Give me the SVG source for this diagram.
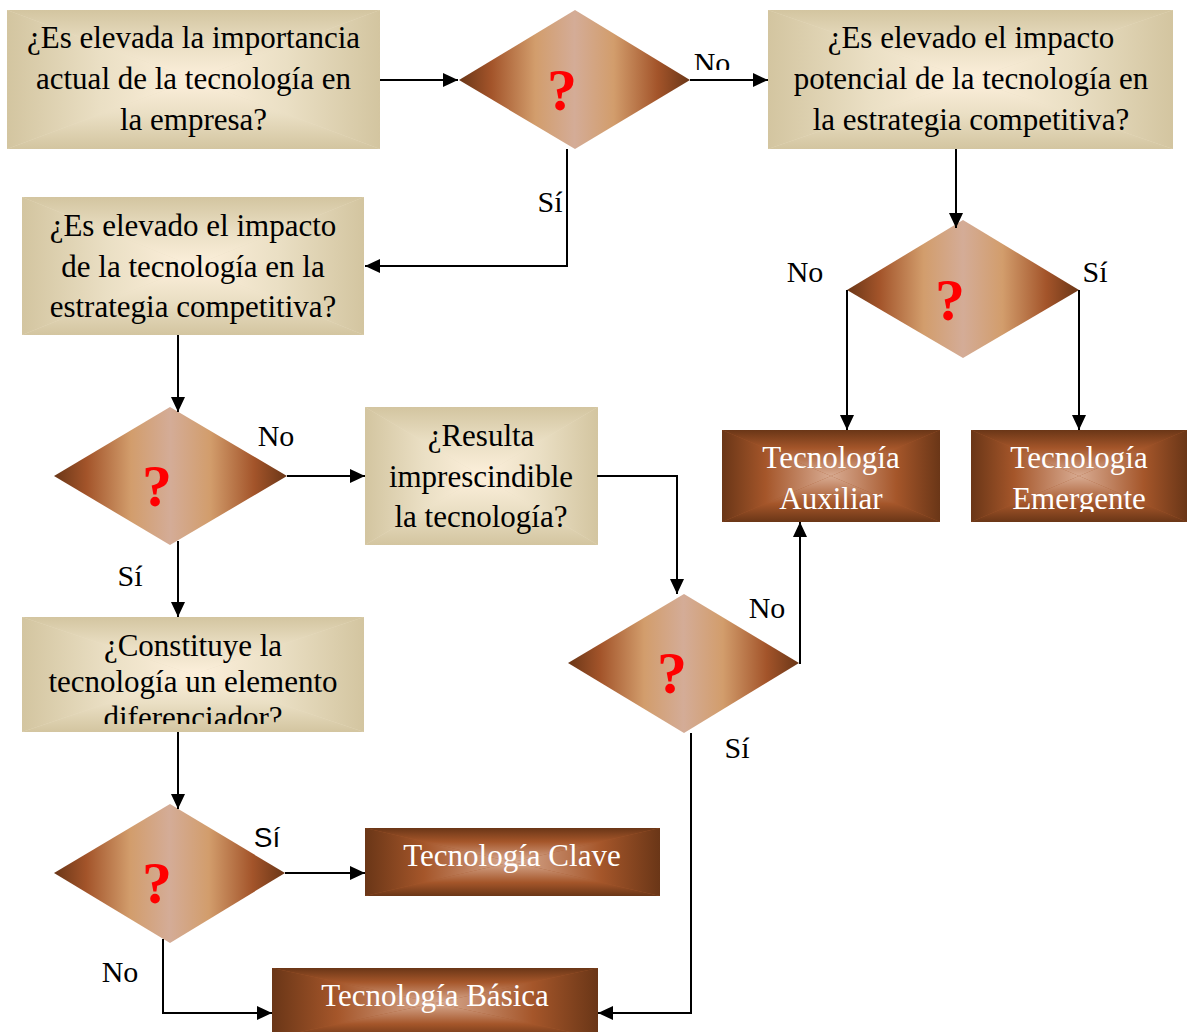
<svg xmlns="http://www.w3.org/2000/svg" width="1187" height="1032" viewBox="0 0 1187 1032">
  <defs>
    <!-- beige "from centre" fill: four triangles fading from edge to centre -->
    <linearGradient id="bgV" x1="0" y1="0" x2="0" y2="1"><stop offset="0" stop-color="#d3c5a0"/><stop offset="0.5" stop-color="#eadfc4"/><stop offset="1" stop-color="#fdf0dc"/></linearGradient>
    <linearGradient id="bgVr" x1="0" y1="1" x2="0" y2="0"><stop offset="0" stop-color="#d3c5a0"/><stop offset="0.5" stop-color="#eadfc4"/><stop offset="1" stop-color="#fdf0dc"/></linearGradient>
    <linearGradient id="bgH" x1="0" y1="0" x2="1" y2="0"><stop offset="0" stop-color="#d3c5a0"/><stop offset="0.5" stop-color="#eadfc4"/><stop offset="1" stop-color="#fdf0dc"/></linearGradient>
    <linearGradient id="bgHr" x1="1" y1="0" x2="0" y2="0"><stop offset="0" stop-color="#d3c5a0"/><stop offset="0.5" stop-color="#eadfc4"/><stop offset="1" stop-color="#fdf0dc"/></linearGradient>
    <!-- brown "from centre" fill -->
    <linearGradient id="brV" x1="0" y1="0" x2="0" y2="1"><stop offset="0" stop-color="#6a3617"/><stop offset="0.4" stop-color="#a5562a"/><stop offset="1" stop-color="#d8ab92"/></linearGradient>
    <linearGradient id="brVr" x1="0" y1="1" x2="0" y2="0"><stop offset="0" stop-color="#6a3617"/><stop offset="0.4" stop-color="#a5562a"/><stop offset="1" stop-color="#d8ab92"/></linearGradient>
    <linearGradient id="brH" x1="0" y1="0" x2="1" y2="0"><stop offset="0" stop-color="#6a3617"/><stop offset="0.4" stop-color="#a5562a"/><stop offset="1" stop-color="#d8ab92"/></linearGradient>
    <linearGradient id="brHr" x1="1" y1="0" x2="0" y2="0"><stop offset="0" stop-color="#6a3617"/><stop offset="0.4" stop-color="#a5562a"/><stop offset="1" stop-color="#d8ab92"/></linearGradient>
    <!-- decision diamond: banded horizontal fill -->
    <linearGradient id="dia" x1="0" y1="0" x2="1" y2="0">
      <stop offset="0" stop-color="#6a3617"/>
      <stop offset="0.14" stop-color="#a3542a"/>
      <stop offset="0.33" stop-color="#d29d6c"/>
      <stop offset="0.5" stop-color="#d4ac97"/>
      <stop offset="0.67" stop-color="#d29d6c"/>
      <stop offset="0.86" stop-color="#a3542a"/>
      <stop offset="1" stop-color="#6a3617"/>
    </linearGradient>
    <symbol id="beige" viewBox="0 0 100 100" preserveAspectRatio="none">
      <rect width="100" height="100" fill="#eadfc4"/>
      <polygon points="0,0 100,0 50,50" fill="url(#bgV)"/>
      <polygon points="0,100 100,100 50,50" fill="url(#bgVr)"/>
      <polygon points="0,0 50,50 0,100" fill="url(#bgH)"/>
      <polygon points="100,0 50,50 100,100" fill="url(#bgHr)"/>
    </symbol>
    <symbol id="brown" viewBox="0 0 100 100" preserveAspectRatio="none">
      <rect width="100" height="100" fill="#a5562a"/>
      <polygon points="0,0 100,0 50,50" fill="url(#brV)"/>
      <polygon points="0,100 100,100 50,50" fill="url(#brVr)"/>
      <polygon points="0,0 50,50 0,100" fill="url(#brH)"/>
      <polygon points="100,0 50,50 100,100" fill="url(#brHr)"/>
    </symbol>
    <marker id="arr" viewBox="0 0 15 14" refX="15" refY="7" markerWidth="15" markerHeight="14" markerUnits="userSpaceOnUse" orient="auto">
      <path d="M0,0 L15,7 L0,14 z" fill="#000"/>
    </marker>
    <clipPath id="clipNo"><rect x="680" y="40" width="60" height="30"/></clipPath>
    <clipPath id="clipB5"><rect x="22" y="617" width="342" height="107"/></clipPath>
    <clipPath id="clipEm"><rect x="971" y="430" width="216" height="82"/></clipPath>
    <style>
      .q { font-family: "Liberation Serif", "Times New Roman", serif; font-size: 31px; fill: #000; text-anchor: middle; }
      .w { font-family: "Liberation Serif", "Times New Roman", serif; font-size: 31px; fill: #fff; text-anchor: middle; }
      .lbl { font-family: "Liberation Serif", "Times New Roman", serif; font-size: 30px; fill: #000; text-anchor: middle; }
      .lbls { font-family: "Liberation Sans", Arial, sans-serif; font-size: 28px; fill: #000; text-anchor: middle; }
      .mark { font-family: "Liberation Serif", "Times New Roman", serif; font-size: 60px; font-weight: bold; fill: #ff0000; text-anchor: middle; }
      .dia { fill: url(#dia); }
      .conn path { fill: none; stroke: #000; stroke-width: 2; }
    </style>
  </defs>

  <rect width="1187" height="1032" fill="#fff"/>

  <!-- question boxes -->
  <g id="q-importancia">
    <use href="#beige" x="7" y="10" width="373" height="139"/>
    <text class="q" x="193.5" y="48">¿Es elevada la importancia</text>
    <text class="q" x="193.5" y="89">actual de la tecnología en</text>
    <text class="q" x="193.5" y="130">la empresa?</text>
  </g>
  <g id="q-potencial">
    <use href="#beige" x="768" y="10" width="405" height="139"/>
    <text class="q" x="971" y="48">¿Es elevado el impacto</text>
    <text class="q" x="971" y="89">potencial de la tecnología en</text>
    <text class="q" x="971" y="130">la estrategia competitiva?</text>
  </g>
  <g id="q-impacto">
    <use href="#beige" x="22" y="197" width="342" height="138"/>
    <text class="q" x="193" y="236">¿Es elevado el impacto</text>
    <text class="q" x="193" y="277">de la tecnología en la</text>
    <text class="q" x="193" y="317">estrategia competitiva?</text>
  </g>
  <g id="q-imprescindible">
    <use href="#beige" x="365" y="407" width="233" height="138"/>
    <text class="q" x="481" y="446">¿Resulta</text>
    <text class="q" x="481" y="487">imprescindible</text>
    <text class="q" x="481" y="527">la tecnología?</text>
  </g>
  <g id="q-diferenciador">
    <use href="#beige" x="22" y="617" width="342" height="115"/>
    <g clip-path="url(#clipB5)">
      <text class="q" x="193" y="656">¿Constituye la</text>
      <text class="q" x="193" y="692">tecnología un elemento</text>
      <text class="q" x="193" y="728">diferenciador?</text>
    </g>
  </g>

  <!-- decisions -->
  <g id="d1">
    <polygon class="dia" points="459,80 575,10 690,80 575,149"/>
    <text class="mark" x="562" y="110">?</text>
  </g>
  <g id="d2">
    <polygon class="dia" points="847,290 963,220 1079,290 963,358"/>
    <text class="mark" x="950" y="320">?</text>
  </g>
  <g id="d3">
    <polygon class="dia" points="54,476 170,407 287,476 170,545"/>
    <text class="mark" x="157" y="506">?</text>
  </g>
  <g id="d4">
    <polygon class="dia" points="54,873 170,804 285,873 170,943"/>
    <text class="mark" x="157" y="903">?</text>
  </g>
  <g id="d5">
    <polygon class="dia" points="568,663 684,594 799,663 684,733"/>
    <text class="mark" x="672" y="693">?</text>
  </g>

  <!-- outcomes -->
  <g id="t-auxiliar">
    <use href="#brown" x="722" y="430" width="218" height="92"/>
    <text class="w" x="831" y="468">Tecnología</text>
    <text class="w" x="831" y="509">Auxiliar</text>
  </g>
  <g id="t-emergente">
    <use href="#brown" x="971" y="430" width="216" height="92"/>
    <g clip-path="url(#clipEm)">
      <text class="w" x="1079" y="468">Tecnología</text>
      <text class="w" x="1079" y="509">Emergente</text>
    </g>
  </g>
  <g id="t-clave">
    <use href="#brown" x="365" y="828" width="295" height="68"/>
    <text class="w" x="512" y="866">Tecnología Clave</text>
  </g>
  <g id="t-basica">
    <use href="#brown" x="272" y="968" width="326" height="70"/>
    <text class="w" x="435" y="1006">Tecnología Básica</text>
  </g>

  <!-- connectors -->
  <g id="connectors" class="conn">
    <path d="M380,80 H458" marker-end="url(#arr)"/>
    <path d="M690,80 H768" marker-end="url(#arr)"/>
    <path d="M567,149 V266 H365" marker-end="url(#arr)"/>
    <path d="M956,149 V228" marker-end="url(#arr)"/>
    <path d="M847,290 V430" marker-end="url(#arr)"/>
    <path d="M1079,290 V430" marker-end="url(#arr)"/>
    <path d="M178,335 V412" marker-end="url(#arr)"/>
    <path d="M287,476 H365" marker-end="url(#arr)"/>
    <path d="M178,541 V617" marker-end="url(#arr)"/>
    <path d="M178,732 V809" marker-end="url(#arr)"/>
    <path d="M285,873 H365" marker-end="url(#arr)"/>
    <path d="M163,939 V1013 H272" marker-end="url(#arr)"/>
    <path d="M597,476 H677 V594" marker-end="url(#arr)"/>
    <path d="M799,663 H800 V522" marker-end="url(#arr)"/>
    <path d="M691,733 V1013 H598" marker-end="url(#arr)"/>
  </g>

  <!-- branch labels -->
  <g id="labels">
    <text class="lbl" x="712" y="73" clip-path="url(#clipNo)">No</text>
    <text class="lbl" x="550" y="212">Sí</text>
    <text class="lbl" x="805" y="282">No</text>
    <text class="lbl" x="1095" y="282">Sí</text>
    <text class="lbl" x="276" y="446">No</text>
    <text class="lbl" x="130" y="586">Sí</text>
    <text class="lbl" x="767" y="618">No</text>
    <text class="lbl" x="737" y="758">Sí</text>
    <text class="lbls" x="267" y="847">Sí</text>
    <text class="lbl" x="120" y="982">No</text>
  </g>
</svg>
